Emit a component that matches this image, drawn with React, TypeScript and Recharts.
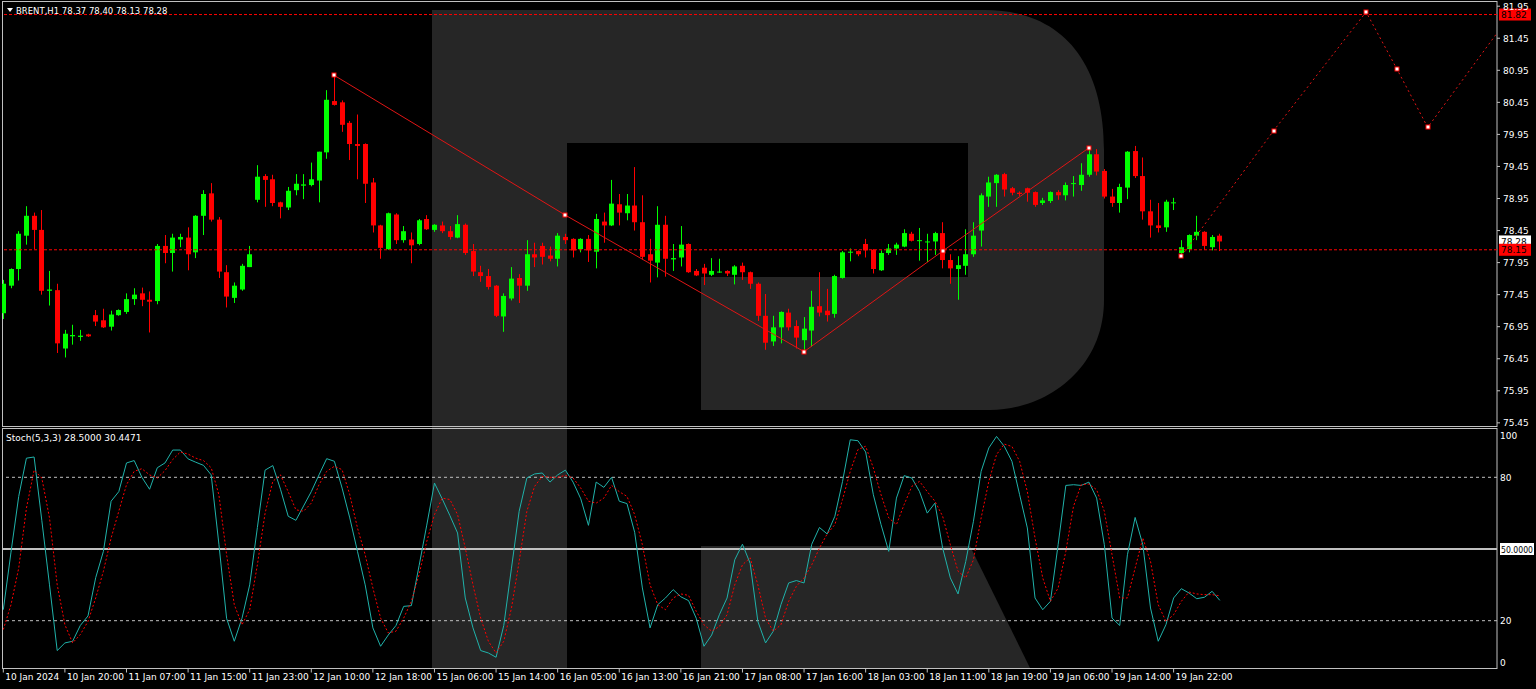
import { Bar, ComposedChart, Line, ReferenceLine, XAxis, YAxis } from "recharts";

const W = 1536;
const H = 689;
const FONT = "'DejaVu Sans', sans-serif";
const AXIS = "#c0c0c0";

// BRENT H1, one entry per bar
const opens = [
  77.16, 77.59, 77.85, 78.37, 78.68, 78.46, 77.51, 77.52, 76.61, 76.80,
  76.79, 76.83, 77.13, 77.05, 76.95, 77.13, 77.18, 77.38, 77.47, 77.37,
  77.35, 78.21, 78.10, 78.31, 78.34, 78.11, 78.68, 79.03, 78.62, 77.80,
  77.40, 77.53, 77.88, 78.93, 79.30, 79.25, 78.89, 78.81, 79.08, 79.15,
  79.16, 79.23, 79.67, 80.47, 80.45, 80.13, 79.80, 79.80, 79.20, 78.53,
  78.16, 78.70, 78.30, 78.31, 78.24, 78.63, 78.46, 78.53, 78.44, 78.34,
  78.54, 78.13, 77.80, 77.74, 77.59, 77.11, 77.39, 77.71, 77.59, 78.08,
  78.21, 78.06, 78.01, 78.35, 78.32, 78.16, 78.32, 78.12, 78.59, 78.53,
  78.86, 78.72, 78.84, 78.58, 78.08, 77.95, 78.54, 78.00, 78.03, 78.24,
  77.82, 77.87, 77.76, 77.80, 77.82, 77.76, 77.90, 77.80, 77.62, 77.12,
  76.72, 76.94, 77.17, 76.96, 76.74, 76.89, 77.27, 77.20, 77.15, 77.71,
  78.11, 78.13, 78.24, 78.15, 77.83, 78.10, 78.17, 78.20, 78.40, 78.29,
  78.27, 78.28, 78.41, 77.99, 77.85, 77.90, 78.08, 78.45, 78.98, 79.19,
  79.33, 79.11, 79.04, 79.11, 79.05, 78.88, 78.91, 79.05, 79.00, 79.18,
  79.16, 79.32, 79.64, 79.38, 78.98, 78.88, 79.12, 79.69, 79.30, 78.75,
  78.53, 78.50, 78.88, 78.10, 78.16, 78.37, 78.43, 78.19, 78.37,
];
const highs = [
  77.68, 77.86, 78.44, 78.83, 78.73, 78.77, 77.82, 77.62, 76.90, 76.98,
  76.90, 76.84, 77.21, 77.23, 77.20, 77.22, 77.47, 77.55, 77.56, 77.50,
  78.24, 78.38, 78.40, 78.40, 78.50, 78.69, 79.08, 79.19, 78.66, 77.91,
  77.64, 77.93, 78.21, 79.47, 79.33, 79.32, 78.90, 79.13, 79.33, 79.33,
  79.51, 79.68, 80.64, 80.87, 80.48, 80.16, 80.26, 79.81, 79.27, 78.54,
  78.73, 78.72, 78.52, 78.42, 78.63, 78.69, 78.55, 78.59, 78.52, 78.69,
  78.56, 78.24, 77.90, 77.85, 77.60, 77.47, 77.88, 77.77, 78.30, 78.26,
  78.26, 78.20, 78.41, 78.40, 78.33, 78.33, 78.38, 78.71, 78.73, 79.24,
  79.02, 79.02, 79.44, 79.00, 78.32, 78.83, 78.68, 78.24, 78.52, 78.25,
  77.85, 77.93, 78.02, 78.01, 77.83, 77.91, 77.95, 77.81, 77.64, 77.46,
  77.12, 77.19, 77.23, 77.05, 77.10, 77.51, 77.80, 77.54, 77.76, 78.13,
  78.17, 78.14, 78.32, 78.16, 78.14, 78.24, 78.26, 78.47, 78.43, 78.49,
  78.40, 78.43, 78.58, 78.08, 78.05, 78.47, 78.58, 79.03, 79.29, 79.33,
  79.35, 79.13, 79.06, 79.12, 79.06, 78.96, 79.06, 79.08, 79.20, 79.30,
  79.50, 79.74, 79.72, 79.41, 79.10, 79.18, 79.69, 79.77, 79.59, 78.93,
  78.88, 78.93, 78.96, 78.30, 78.39, 78.68, 78.44, 78.38, 78.40,
];
const lows = [
  77.07, 77.55, 77.67, 78.23, 78.16, 77.45, 77.28, 76.54, 76.47, 76.67,
  76.73, 76.79, 76.96, 76.93, 76.89, 77.12, 77.15, 77.29, 77.27, 76.86,
  77.30, 77.94, 77.81, 78.19, 77.83, 78.02, 78.38, 78.59, 77.71, 77.25,
  77.32, 77.51, 77.88, 78.89, 78.82, 78.83, 78.64, 78.77, 79.00, 78.94,
  79.14, 78.89, 79.57, 80.40, 79.99, 79.55, 79.25, 78.88, 78.42, 78.01,
  78.15, 78.24, 78.26, 77.94, 78.22, 78.46, 78.43, 78.41, 78.31, 78.33,
  78.07, 77.74, 77.65, 77.53, 77.10, 76.87, 77.36, 77.32, 77.51, 77.88,
  77.92, 77.97, 77.89, 78.24, 78.03, 78.11, 77.96, 77.86, 78.26, 78.52,
  78.53, 78.61, 78.45, 78.00, 77.64, 77.72, 77.73, 77.82, 77.89, 77.79,
  77.74, 77.60, 77.74, 77.79, 77.74, 77.61, 77.68, 77.54, 77.04, 76.59,
  76.65, 76.69, 76.89, 76.61, 76.56, 76.64, 77.11, 77.03, 77.09, 77.70,
  77.97, 78.05, 78.03, 77.78, 77.82, 78.07, 78.07, 78.19, 78.28, 77.98,
  77.96, 78.07, 77.86, 77.62, 77.37, 77.76, 78.04, 78.20, 78.82, 78.82,
  78.98, 79.00, 78.99, 78.90, 78.82, 78.85, 78.88, 78.93, 78.92, 78.98,
  79.07, 79.29, 79.31, 78.95, 78.82, 78.73, 78.94, 79.27, 78.62, 78.34,
  78.42, 78.43, 78.77, 78.08, 78.11, 78.30, 78.15, 78.14, 78.13,
];
const closes = [
  77.62, 77.85, 78.40, 78.68, 78.46, 77.51, 77.53, 76.69, 76.84, 76.82,
  76.81, 76.80, 77.03, 76.94, 77.14, 77.21, 77.38, 77.45, 77.37, 77.34,
  78.21, 78.10, 78.34, 78.35, 78.08, 78.68, 79.02, 78.62, 77.81, 77.42,
  77.59, 77.90, 78.08, 79.29, 79.24, 78.88, 78.82, 79.07, 79.18, 79.17,
  79.25, 79.68, 80.49, 80.41, 80.10, 79.80, 79.77, 79.18, 78.53, 78.18,
  78.72, 78.30, 78.44, 78.22, 78.61, 78.47, 78.54, 78.44, 78.35, 78.55,
  78.10, 77.81, 77.74, 77.57, 77.12, 77.43, 77.70, 77.59, 78.08, 78.03,
  78.04, 78.01, 78.37, 78.30, 78.14, 78.32, 78.14, 78.63, 78.53, 78.87,
  78.73, 78.84, 78.58, 78.04, 77.98, 78.54, 78.01, 78.02, 78.23, 77.80,
  77.75, 77.78, 77.82, 77.81, 77.78, 77.89, 77.80, 77.62, 77.12, 76.70,
  76.94, 77.18, 76.94, 76.78, 76.92, 77.26, 77.17, 77.13, 77.74, 78.11,
  78.12, 78.08, 78.14, 77.85, 78.10, 78.17, 78.23, 78.41, 78.29, 78.30,
  78.28, 78.41, 77.99, 77.86, 77.91, 78.08, 78.37, 79.00, 79.20, 79.32,
  79.09, 79.04, 79.02, 79.04, 78.85, 78.92, 79.05, 79.00, 79.16, 79.19,
  79.32, 79.64, 79.37, 78.98, 78.88, 79.13, 79.68, 79.30, 78.75, 78.53,
  78.49, 78.90, 78.89, 78.19, 78.38, 78.43, 78.21, 78.35, 78.28,
];

// Stoch(5,3,3)
const stochK = [
  24.6, 48.7, 72, 88, 88.5, 62, 35, 7.5, 10.7, 11.4,
  18, 22, 38, 49, 70, 74, 86, 87, 80, 75,
  84, 86, 91.4, 91.4, 87.7, 86.3, 85, 81, 52, 21,
  11.4, 21, 35, 59, 83, 84.9, 75, 63.7, 62, 68,
  74, 81, 87.8, 86.7, 75.5, 63, 49, 35, 17, 9.3,
  14, 18, 26, 26.3, 43, 60, 77.6, 71, 64, 56.7,
  29.5, 17, 7.5, 6.5, 4.7, 18, 42, 65.8, 79.7, 81.4,
  81.8, 78, 81, 83, 78, 71, 59.9, 78, 75.8, 80,
  70, 69, 57, 33.7, 17, 26.7, 29.5, 33, 30, 28.4,
  21, 9.3, 14, 22.5, 29.5, 45.5, 52, 44, 19.7, 10.7,
  15.6, 26.7, 35.8, 36.8, 35.8, 52, 59, 56.3, 63.7, 78.3,
  95.7, 95.3, 90.6, 72.7, 60.2, 49, 71.3, 80.7, 79.7, 74,
  65, 69.2, 50.4, 37.9, 31.2, 44.8, 61.6, 82.5, 92.3, 97.1,
  93, 86.7, 72.7, 58.8, 29.5, 24.6, 28.1, 51.8, 76.6, 76.9,
  76.6, 78, 71.3, 51.8, 21.1, 18, 47.6, 63.2, 51.8, 25.3,
  11.4, 18.3, 29.5, 33.4, 31.6, 29.2, 29.8, 32.3, 28.5,
];
const stochD = [
  16.3, 26.7, 42, 67, 83, 79.7, 63, 35, 18.3, 10.7,
  14.2, 19.7, 29.5, 40.7, 54.6, 65.8, 76.9, 82.5, 83.6, 81,
  79.7, 82.8, 87.4, 90.6, 89.7, 88, 87, 84, 72.7, 47.6,
  26.7, 18.3, 24.6, 43.4, 65, 78.3, 81, 74, 66.4, 65.8,
  69.2, 76.9, 82.5, 84.6, 83.2, 72.7, 58.8, 47.6, 33.7, 21.1,
  14.9, 15.6, 21.1, 28.1, 39.3, 53.2, 64.4, 71.3, 70.7, 64.4,
  50.4, 35, 21.1, 11.4, 6.5, 11.4, 25.3, 44.8, 65.8, 76.2,
  80.4, 80, 80, 80.8, 79.7, 75.5, 70, 69.2, 71.3, 76.6,
  74, 72, 64.4, 51.8, 35, 26.7, 24.6, 29.5, 31.2, 30.6,
  23.9, 18.3, 15.6, 17.6, 22.5, 35, 43.4, 46.3, 35, 21.1,
  15.6, 18.3, 28.1, 34.4, 37.9, 43.4, 50.4, 56.3, 60.2, 70.7,
  82.5, 91.6, 93, 83.9, 72.7, 63, 60.2, 68.6, 76.2, 78.3,
  74, 70, 63.7, 51.8, 40.7, 37.9, 45.5, 63, 78.3, 89.5,
  93.9, 92.9, 86.7, 74, 54.6, 37.9, 28.1, 33.7, 49, 67.9,
  76.9, 77.2, 74.8, 65.8, 47.6, 29.5, 29.5, 42, 54.6, 44.8,
  26.7, 19.7, 22.5, 28.1, 32, 31.2, 30.9, 30.9, 30.4,
];

const timeLabels = [
  "10 Jan 2024", "10 Jan 20:00", "11 Jan 07:00", "11 Jan 15:00", "11 Jan 23:00",
  "12 Jan 10:00", "12 Jan 18:00", "15 Jan 06:00", "15 Jan 14:00", "16 Jan 05:00",
  "16 Jan 13:00", "16 Jan 21:00", "17 Jan 08:00", "17 Jan 16:00", "18 Jan 03:00",
  "18 Jan 11:00", "18 Jan 19:00", "19 Jan 06:00", "19 Jan 14:00", "19 Jan 22:00",
];
const BARS_PER_LABEL = 8;
const priceTicks = [81.95, 81.45, 80.95, 80.45, 79.95, 79.45, 78.95, 78.45, 77.95, 77.45, 76.95, 76.45, 75.95, 75.45];
const stochTicks = [0, 20, 50, 80, 100];

// zigzag drawn on the chart (bar index / price) and the dotted projection
const zigzagBars = [43, 73, 104, 122, 141];
const zigzagPrices = [80.87, 78.69, 76.56, 78.13, 79.74];
const forecastBars = [153, 165, 177, 181, 185, 194];
const forecastPrices = [78.05, 80.01, 81.86, 80.97, 80.06, 81.53];

const targetLevel = 81.82;
const supportLevel = 78.15;
const lastBid = 78.28;

const X_DOMAIN: [number, number] = [-0.17, 194];
const PRICE_DOMAIN: [number, number] = [75.4008, 82.0155];

const byBar = new Map<number, any>();
const rowAt = (i: number) => {
  let r = byBar.get(i);
  if (!r) {
    r = { i };
    byBar.set(i, r);
  }
  return r;
};
opens.forEach((o, i) =>
  Object.assign(rowAt(i), { o, h: highs[i], l: lows[i], c: closes[i], range: [lows[i], highs[i]] })
);
zigzagBars.forEach((b, k) => (rowAt(b).zz = zigzagPrices[k]));
forecastBars.forEach((b, k) => {
  rowAt(b).fc = forecastPrices[k];
  rowAt(b).fcMark = k < forecastBars.length - 1;
});
const priceData = [...byBar.values()].sort((a, b) => a.i - b.i);

const stochData = stochK.map((k, i) => ({ i, k, d: stochD[i] }));
const timeTicks = timeLabels.map((_, n) => n * BARS_PER_LABEL);

function Candle(props: any) {
  const { x, y, width, height, payload } = props;
  if (!payload || payload.h == null || !isFinite(y)) return <g />;
  const span = payload.h - payload.l;
  const k = span > 0 ? height / span : 0;
  const cx = Math.round(x + width / 2) + 0.5;
  const yO = y + (payload.h - payload.o) * k;
  const yC = y + (payload.h - payload.c) * k;
  const color = payload.c >= payload.o ? "#00ff00" : "#ff0000";
  const top = Math.min(yO, yC);
  const bh = Math.max(1, Math.abs(yC - yO));
  return (
    <g>
      <line x1={cx} x2={cx} y1={y} y2={y + height} stroke={color} />
      <rect x={cx - 2.5} y={top} width={5} height={bh} fill={color} />
    </g>
  );
}

function Marker(props: any) {
  const { cx, cy, payload, dataKey } = props;
  if (cx == null || cy == null || !payload || payload[dataKey] == null) return <g key={props.key} />;
  if (dataKey === "fc" && !payload.fcMark) return <g key={props.key} />;
  return (
    <rect
      key={props.key}
      x={Math.round(cx) - 2}
      y={Math.round(cy) - 2}
      width={4}
      height={4}
      fill="#ffffff"
      stroke="#ff0000"
    />
  );
}

function PriceTick({ x, y, payload }: any) {
  return (
    <g>
      <line x1={x} x2={x + 3} y1={y} y2={y} stroke={AXIS} />
      <text x={x + 6} y={y + 3.5} fill="#ffffff" fontSize={9} fontFamily={FONT}>
        {Number(payload.value).toFixed(2)}
      </text>
    </g>
  );
}

function StochTick({ x, y, payload }: any) {
  if (payload.value === 50) {
    return (
      <g>
        <rect x={x + 3} y={y - 6} width={34} height={12} fill="#ffffff" />
        <text x={x + 4} y={y + 3.5} fill="#000000" fontSize={8.5} fontFamily={FONT} textLength={32} lengthAdjust="spacingAndGlyphs">
          50.0000
        </text>
      </g>
    );
  }
  // MT4 keeps the edge labels inside the window
  const shift = payload.value === 100 ? 6 : payload.value === 0 ? -6 : 0;
  return (
    <text x={x + 3} y={y + 3.5 + shift} fill="#ffffff" fontSize={9} fontFamily={FONT}>
      {payload.value}
    </text>
  );
}

function TimeTick({ x, y, payload }: any) {
  const label = timeLabels[Math.round(payload.value / BARS_PER_LABEL)];
  return (
    <g>
      <line x1={x} x2={x} y1={y} y2={y + 4} stroke={AXIS} />
      <text x={x + 2} y={y + 11.5} fill="#ffffff" fontSize={9} fontFamily={FONT}>
        {label}
      </text>
    </g>
  );
}

function priceBox(text: string, bg: string) {
  return (p: any) => {
    const vb = p.viewBox || {};
    const x = vb.x + vb.width;
    const y = vb.y;
    return (
      <g>
        <rect x={x + 2} y={y - 6} width={32} height={12} fill={bg} />
        <text x={x + 4} y={y + 3.5} fill="#000000" fontSize={9} fontFamily={FONT}>
          {text}
        </text>
      </g>
    );
  };
}

export default function App() {
  return (
    <div
      style={{
        position: "absolute",
        left: 0,
        top: 0,
        width: W,
        height: H,
        background: "#000",
        overflow: "hidden",
      }}
    >
      {/* watermark + panel frames */}
      <svg width={W} height={H} style={{ position: "absolute", left: 0, top: 0 }}>
        <path
          d="M432,10 L985,10 C1060,10 1104,60 1104,150 L1104,300 C1104,370 1045,410 990,410 L701,410 L701,277 L968,277 L968,143 L567,143 L567,668 L432,668 Z"
          fill="#262626"
        />
        <path d="M701,546 L970,546 L1030,668 L701,668 Z" fill="#262626" />
        <rect x={2.5} y={1.5} width={1494.5} height={425} fill="none" stroke={AXIS} />
        <rect x={2.5} y={428.5} width={1494.5} height={240} fill="none" stroke={AXIS} />
      </svg>

      <div style={{ position: "absolute", left: 0, top: 0 }}>
        <ComposedChart width={W} height={428} data={priceData} margin={{ top: 2, right: 0, bottom: 2, left: 2 }}>
          <XAxis dataKey="i" type="number" domain={X_DOMAIN} allowDataOverflow hide />
          <YAxis
            orientation="right"
            width={39}
            domain={PRICE_DOMAIN}
            allowDataOverflow
            ticks={priceTicks}
            interval={0}
            axisLine={false}
            tickLine={false}
            tickSize={0}
            tickMargin={0}
            tick={<PriceTick />}
          />
          <ReferenceLine y={targetLevel} stroke="#ff0000" strokeDasharray="3 2" label={priceBox("81.82", "#ff0000")} />
          <ReferenceLine y={lastBid} stroke="none" label={priceBox("78.28", "#ffffff")} />
          <ReferenceLine y={supportLevel} stroke="#ff0000" strokeDasharray="3 2" label={priceBox("78.15", "#ff0000")} />
          <Bar dataKey="range" barSize={5} shape={(p: any) => <Candle {...p} />} isAnimationActive={false} />
          <Line
            dataKey="zz"
            stroke="#e01515"
            strokeWidth={1}
            connectNulls
            dot={(p: any) => <Marker {...p} dataKey="zz" />}
            activeDot={false}
            isAnimationActive={false}
          />
          <Line
            dataKey="fc"
            stroke="#e01515"
            strokeWidth={1}
            strokeDasharray="2 3"
            connectNulls
            dot={(p: any) => <Marker {...p} dataKey="fc" />}
            activeDot={false}
            isAnimationActive={false}
          />
        </ComposedChart>
      </div>

      <div style={{ position: "absolute", left: 0, top: 428 }}>
        <ComposedChart width={W} height={261} data={stochData} margin={{ top: 1.5, right: 0, bottom: 0, left: 2 }}>
          <XAxis
            dataKey="i"
            type="number"
            domain={X_DOMAIN}
            allowDataOverflow
            ticks={timeTicks}
            interval={0}
            height={20.5}
            axisLine={false}
            tickLine={false}
            tickSize={0}
            tickMargin={0}
            tick={<TimeTick />}
          />
          <YAxis
            orientation="right"
            width={39}
            domain={[0, 100]}
            ticks={stochTicks}
            interval={0}
            axisLine={false}
            tickLine={false}
            tickSize={0}
            tickMargin={0}
            tick={<StochTick />}
          />
          <ReferenceLine y={80} stroke={AXIS} strokeDasharray="3 3" />
          <ReferenceLine y={20} stroke={AXIS} strokeDasharray="3 3" />
          <ReferenceLine y={50} stroke={AXIS} strokeWidth={2} />
          <Line dataKey="k" stroke="#20b2aa" strokeWidth={1} dot={false} activeDot={false} isAnimationActive={false} />
          <Line
            dataKey="d"
            stroke="#ff0000"
            strokeWidth={1}
            strokeDasharray="2 2"
            dot={false}
            activeDot={false}
            isAnimationActive={false}
          />
        </ComposedChart>
      </div>

      {/* panel captions */}
      <svg width={W} height={H} style={{ position: "absolute", left: 0, top: 0, pointerEvents: "none" }}>
        <path d="M7,8 L13,8 L10,12 Z" fill="#ffffff" />
        <text x={16} y={13.5} fill="#ffffff" fontSize={8.5} fontFamily={FONT}>
          BRENT,H1  78.37 78.40 78.13 78.28
        </text>
        <text x={6} y={440.5} fill="#ffffff" fontSize={9} fontFamily={FONT}>
          Stoch(5,3,3) 28.5000 30.4471
        </text>
      </svg>
    </div>
  );
}
